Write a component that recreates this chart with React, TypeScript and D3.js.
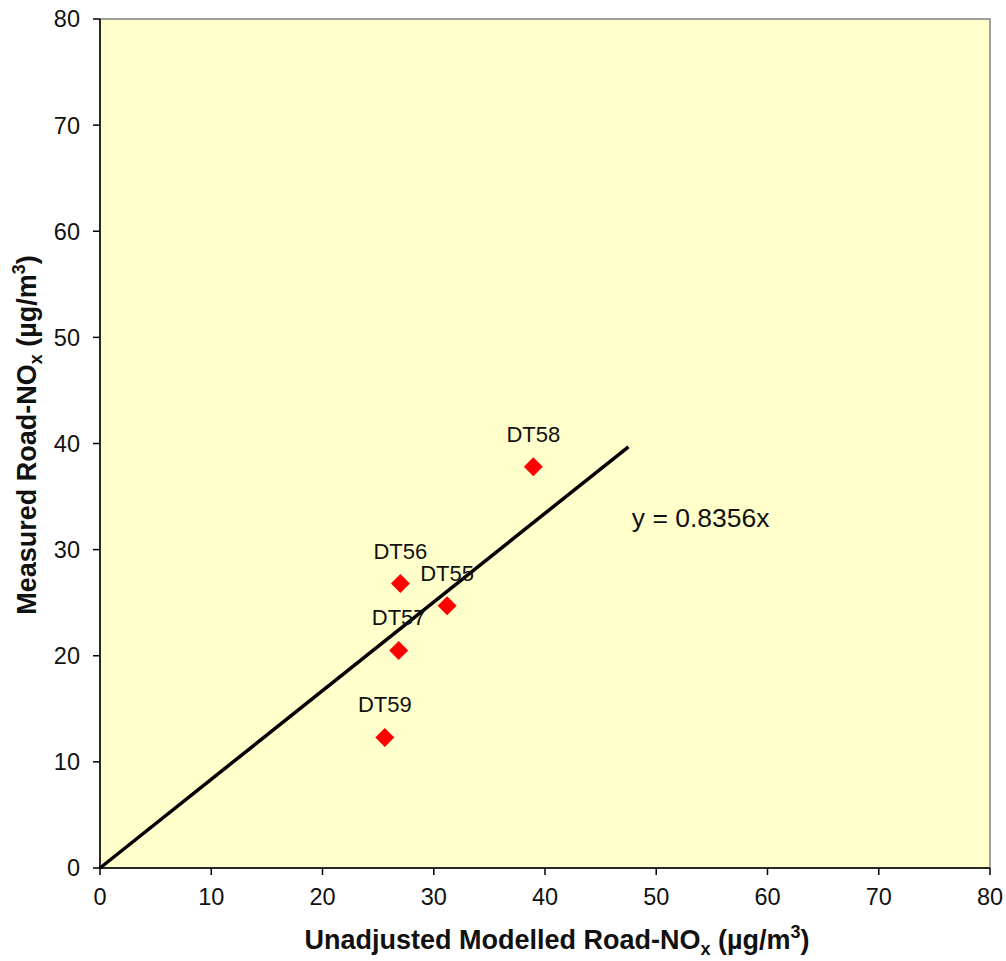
import React from "react";
import * as d3 from "d3";

const siteLabels = ["DT55", "DT56", "DT57", "DT58", "DT59"];
const modelledNOx = [31.2, 27.0, 26.85, 38.95, 25.6];
const measuredNOx = [24.7, 26.8, 20.5, 37.8, 12.3];
const slope = 0.8356;
const trendEndX = 47.5;
const tickValues = [0, 10, 20, 30, 40, 50, 60, 70, 80];

const W = 1006;
const H = 961;
const left = 100;
const right = 990;
const top = 19;
const bottom = 868;
const FONT = "'Liberation Sans', Arial, sans-serif";

export default function App() {
  const x = d3.scaleLinear().domain([0, 80]).range([left, right]);
  const y = d3.scaleLinear().domain([0, 80]).range([bottom, top]);
  const line = d3.line<[number, number]>().x((d) => x(d[0])).y((d) => y(d[1]));
  const trend: [number, number][] = [
    [0, 0],
    [trendEndX, slope * trendEndX],
  ];
  const diamond = d3.symbol().type(d3.symbolDiamond2).size(230);
  const pts = siteLabels.map((s, i) => ({ s, mx: modelledNOx[i], my: measuredNOx[i] }));

  return (
    <svg width={W} height={H} style={{ position: "absolute", left: 0, top: 0, background: "#fff" }}>
      <rect x={left} y={top} width={right - left} height={bottom - top} fill="#FFFFCC" stroke="#808080" strokeWidth={1.5} />
      <line x1={left} x2={left} y1={top} y2={bottom} stroke="#000" strokeWidth={1.5} />
      <line x1={left} x2={right} y1={bottom} y2={bottom} stroke="#000" strokeWidth={1.5} />
      {tickValues.map((t) => (
        <g key={"y" + t}>
          <line x1={left - 7} x2={left} y1={y(t)} y2={y(t)} stroke="#000" strokeWidth={1.5} />
          <text x={80} y={y(t)} dy="0.36em" textAnchor="end" fontFamily={FONT} fontSize={23.5} fill="#111">
            {t}
          </text>
        </g>
      ))}
      {tickValues.map((t) => (
        <g key={"x" + t}>
          <line x1={x(t)} x2={x(t)} y1={bottom} y2={bottom + 7} stroke="#000" strokeWidth={1.5} />
          <text x={x(t)} y={897} dy="0.36em" textAnchor="middle" fontFamily={FONT} fontSize={23.5} fill="#111">
            {t}
          </text>
        </g>
      ))}
      <path d={line(trend) || ""} stroke="#000" strokeWidth={3.5} fill="none" />
      {pts.map((p) => (
        <g key={p.s}>
          <path d={diamond() || ""} transform={`translate(${x(p.mx)},${y(p.my)})`} fill="#FF0000" />
          <text x={x(p.mx)} y={y(p.my) - 25} textAnchor="middle" fontFamily={FONT} fontSize={22} fill="#111">
            {p.s}
          </text>
        </g>
      ))}
      <text x={x(47.8)} y={y(33)} dy="0.36em" fontFamily={FONT} fontSize={26.5} fill="#111">
        y = 0.8356x
      </text>
      <text x={557} y={949} textAnchor="middle" fontFamily={FONT} fontSize={27} fontWeight="bold" fill="#111">
        Unadjusted Modelled Road-NO
        <tspan fontSize={18} dy={6}>x</tspan>
        <tspan dy={-6}> (µg/m</tspan>
        <tspan fontSize={18} dy={-11}>3</tspan>
        <tspan dy={11}>)</tspan>
      </text>
      <text
        transform={`translate(36,435) rotate(-90)`}
        textAnchor="middle"
        fontFamily={FONT}
        fontSize={27}
        fontWeight="bold"
        fill="#111"
      >
        Measured Road-NO
        <tspan fontSize={18} dy={6}>x</tspan>
        <tspan dy={-6}> (µg/m</tspan>
        <tspan fontSize={18} dy={-11}>3</tspan>
        <tspan dy={11}>)</tspan>
      </text>
    </svg>
  );
}
